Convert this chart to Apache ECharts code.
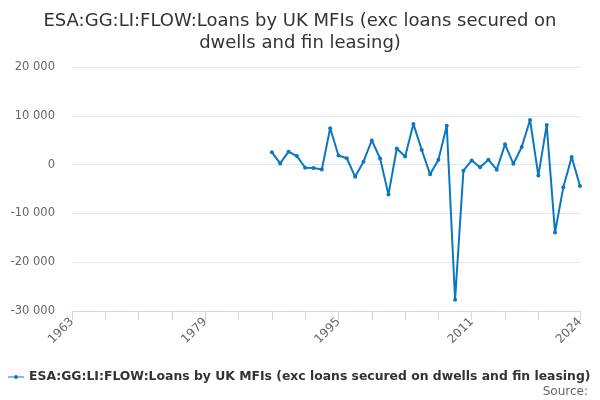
<!DOCTYPE html>
<html>
<head>
<meta charset="utf-8">
<script src="https://cdn.jsdelivr.net/npm/echarts@6/dist/echarts.min.js"></script>
<style>
  html, body { margin: 0; padding: 0; background: #fff; }
  #chart { width: 600px; height: 400px; }
</style>
</head>
<body>
<div id="chart"></div>
<script>
const seriesName = 'ESA:GG:LI:FLOW:Loans by UK MFIs (exc loans secured on dwells and fin leasing)';
const chartTitle = 'ESA:GG:LI:FLOW:Loans by UK MFIs (exc loans secured on\ndwells and fin leasing)';

// years 1963..2024
const years = [];
for (let y = 1963; y <= 2024; y++) years.push(String(y));

// values, 1987..2024 (earlier years empty)
const firstYear = 1987;
const readValues = [
    2550, 250, 2650, 1750, -650, -700, -1000, 7450, 1850, 1300,
    -2500, 600, 4950, 1250, -6150, 3300, 1650, 8300, 3000, -2000,
    1000, 7950, -27700, -1250, 850, -550, 1000, -1050, 4150, 150,
    3600, 9150, -2250, 8100, -13900, -4650, 1550, -4400
];

const values = years.map(function (y) {
    const i = Number(y) - firstYear;
    return i >= 0 && i < readValues.length ? readValues[i] : null;
});

function createChart(elId) {
    const chart = echarts.init(document.getElementById(elId));
    const lastIndex = years.length - 1;

    const option = {
        animation: false,
        title: [
            {
                text: chartTitle,
                left: 'center',
                top: 5,
                textStyle: {
                    fontFamily: 'DejaVu Sans',
                    fontSize: 18,
                    fontWeight: 'normal',
                    color: '#333',
                    lineHeight: 22
                }
            },
            {
                text: 'Source:',
                right: 7,
                top: 381,
                textStyle: {
                    fontFamily: 'DejaVu Sans',
                    fontSize: 12,
                    fontWeight: 'normal',
                    color: '#666'
                }
            }
        ],
        legend: {
            left: 3,
            top: 366,
            itemWidth: 16,
            itemHeight: 8,
            itemGap: 5,
            textStyle: {
                fontFamily: 'DejaVu Sans',
                fontSize: 12.4,
                fontWeight: 'bold',
                color: '#333'
            },
            data: [{ name: seriesName, icon: 'path://M0,3.4 L16,3.4 L16,4.6 L0,4.6 Z M8,2 A2,2 0 1 1 7.99,2 Z' }]
        },
        grid: {
            left: 72,
            right: 20,
            top: 67,
            bottom: 89
        },
        xAxis: {
            type: 'category',
            data: years,
            boundaryGap: false,
            axisLine: { onZero: false, lineStyle: { color: '#ccd6eb' } },
            axisTick: {
                length: 9,
                lineStyle: { color: '#ccd6eb' },
                interval: function (i) {
                    return (i % 4 === 0 && i !== 60) || i === lastIndex;
                }
            },
            axisLabel: {
                rotate: 45,
                fontFamily: 'DejaVu Sans',
                fontSize: 12,
                color: '#666',
                margin: 9,
                interval: function (i) {
                    return i % 16 === 0 || i === lastIndex;
                }
            },
            splitLine: { show: false }
        },
        yAxis: {
            type: 'value',
            min: -30000,
            max: 20000,
            interval: 10000,
            axisLine: { show: false },
            axisTick: { show: false },
            axisLabel: {
                fontFamily: 'DejaVu Sans',
                fontSize: 11.5,
                color: '#666',
                margin: 17,
                formatter: function (v) {
                    return String(v).replace(/\B(?=(\d{3})+(?!\d))/g, ' ');
                }
            },
            splitLine: { lineStyle: { color: '#e6e6e6' } }
        },
        series: [
            {
                name: seriesName,
                type: 'line',
                data: values,
                connectNulls: false,
                symbol: 'circle',
                symbolSize: 4,
                showAllSymbol: true,
                lineStyle: { width: 2, color: '#0a78c1' },
                itemStyle: { color: '#0a78c1' }
            }
        ]
    };
    chart.setOption(option);
}

createChart('chart');
</script>
</body>
</html>
